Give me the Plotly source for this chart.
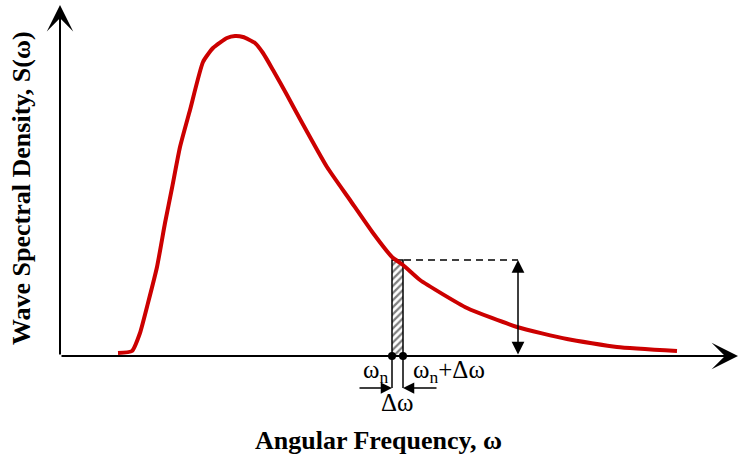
import plotly.graph_objects as go

# Spectrum curve (angular frequency in rad/s, spectral density)
omega = [0.29, 0.36, 0.40, 0.44, 0.485, 0.525, 0.56, 0.60, 0.65, 0.715, 0.765, 0.835,
         0.875, 0.915, 0.975, 1.015, 1.065, 1.135, 1.20, 1.335, 1.45, 1.565, 1.66,
         1.715, 1.80, 2.035, 2.285, 2.535, 2.785, 3.085]
S = [0.03, 0.05, 0.23, 0.53, 0.89, 1.33, 1.68, 2.09, 2.46, 2.94, 3.08, 3.18,
     3.20, 3.19, 3.13, 3.03, 2.86, 2.61, 2.37, 1.89, 1.56, 1.23, 0.99,
     0.91, 0.76, 0.48, 0.29, 0.17, 0.09, 0.05]

omega_n = 1.66
d_omega = 0.055
S_n = 0.96
omega_marker = 2.29  # position of the height (double) arrow

X_MIN, X_MAX = -0.30, 3.395
Y_MIN, Y_MAX = -0.99, 3.56
X_AXIS_END = 3.39
Y_AXIS_END = 3.51

RED = "#cc0000"
SERIF = "Times New Roman, Liberation Serif, serif"

fig = go.Figure()

# hatched strip
fig.add_trace(go.Bar(
    x=[omega_n + d_omega / 2], y=[S_n], width=[d_omega], base=0,
    marker=dict(color="white", line=dict(color="black", width=1.5),
                pattern=dict(shape="/", fgcolor="black", bgcolor="white",
                             size=5, solidity=0.45)),
    showlegend=False, hoverinfo="skip"))

# dashed line to the height arrow
fig.add_trace(go.Scatter(
    x=[omega_n, omega_marker], y=[S_n, S_n], mode="lines",
    line=dict(color="black", width=1.6, dash="7px,5px"),
    showlegend=False, hoverinfo="skip"))

# spectrum curve
fig.add_trace(go.Scatter(
    x=omega, y=S, mode="lines",
    line=dict(color=RED, width=4, shape="spline", smoothing=0.5),
    showlegend=False, hoverinfo="skip"))

# vertical ticks below the axis
for xv in [omega_n, omega_n + d_omega]:
    fig.add_trace(go.Scatter(
        x=[xv, xv], y=[0, -0.32], mode="lines",
        line=dict(color="black", width=1.5),
        showlegend=False, hoverinfo="skip"))

# dots on the axis
fig.add_trace(go.Scatter(
    x=[omega_n, omega_n + d_omega], y=[0, 0], mode="markers",
    marker=dict(color="black", size=8), cliponaxis=False,
    showlegend=False, hoverinfo="skip"))

annotations = []

def arrow(x0, y0, x1, y1, head=3, size=1.0, width=2.0, side="end"):
    annotations.append(dict(
        x=x1, y=y1, ax=x0, ay=y0, xref="x", yref="y", axref="x", ayref="y",
        showarrow=True, arrowhead=head, arrowsize=size, arrowwidth=width,
        arrowcolor="black", arrowside=side, standoff=0, startstandoff=0,
        startarrowhead=head, startarrowsize=size, text=""))

# axes
arrow(0, 0, 0, Y_AXIS_END, head=3, size=2.2, width=2)
arrow(0, 0, X_AXIS_END, 0, head=3, size=2.2, width=2)

# height double arrow
arrow(omega_marker, 0, omega_marker, S_n, head=2, size=1.7, width=1.5, side="end+start")

# delta omega arrows
arrow(omega_n - 0.17, -0.32, omega_n, -0.32, head=2, size=1.5, width=1.5)
arrow(omega_n + d_omega + 0.175, -0.32, omega_n + d_omega, -0.32, head=2, size=1.5, width=1.5)

def label(x, y, text, size=25, xanchor="center", angle=0):
    annotations.append(dict(
        x=x, y=y, xref="x", yref="y", text=text, showarrow=False,
        xanchor=xanchor, yanchor="middle", textangle=angle,
        font=dict(family=SERIF, size=size, color="black")))

label(omega_n - 0.01, -0.15, "ω<sub>n</sub>", xanchor="right")
label(omega_n + d_omega + 0.04, -0.15, "ω<sub>n</sub>+Δω", xanchor="left")
label(omega_n + d_omega / 2, -0.46, "Δω")

label(1.59, -0.84, "<b>Angular Frequency, ω</b>", size=26)
label(-0.195, 1.68, "<b>Wave Spectral Density, S(ω)</b>", size=26, angle=-90)

fig.update_layout(
    width=739, height=455,
    margin=dict(l=0, r=0, t=0, b=0),
    paper_bgcolor="white", plot_bgcolor="white",
    xaxis=dict(range=[X_MIN, X_MAX], visible=False, fixedrange=True),
    yaxis=dict(range=[Y_MIN, Y_MAX], visible=False, fixedrange=True),
    annotations=annotations,
    showlegend=False,
)

fig.write_html(
    "out.html",
    config={"displayModeBar": False},
    post_script="document.body.style.margin='0';document.body.style.overflow='hidden';",
)
